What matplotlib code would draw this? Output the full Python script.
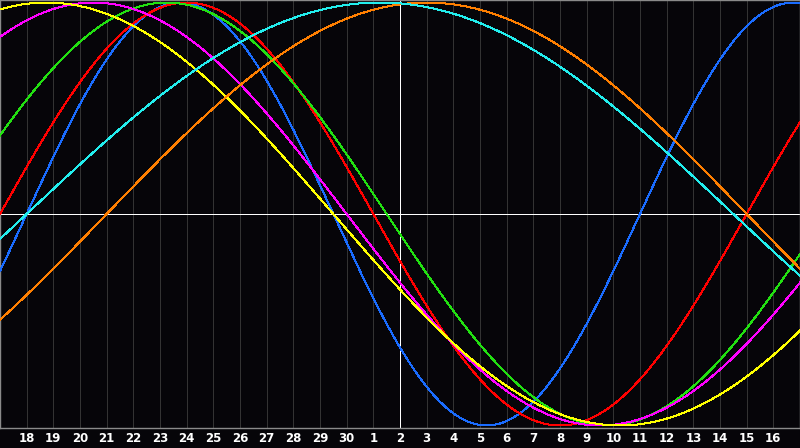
import numpy as np
import matplotlib
matplotlib.use("Agg")
import matplotlib.pyplot as plt

# biorhythm chart: 30 days shown, left edge = day 17, "today" = day 2 (centre)
days_alive_at_left = 18284          # day count at the left edge (read from zero crossings)
today_offset = 15                   # days from left edge to the white "today" line
n_days = 30

cycle_names = ["physical", "emotional", "intellectual", "intuitive",
               "aesthetic", "awareness", "spiritual"]
cycle_periods = [23, 28, 33, 38, 43, 48, 53]
cycle_colors = ["#1a6cff", "#ff0000", "#22e011", "#ff00ff",
                "#ffff00", "#ff7f00", "#22eeee"]

day_labels = [18, 19, 20, 21, 22, 23, 24, 25, 26, 27, 28, 29, 30,
              1, 2, 3, 4, 5, 6, 7, 8, 9, 10, 11, 12, 13, 14, 15, 16]

bg = "#060509"
fig = plt.figure(figsize=(8, 4.48), dpi=100, facecolor=bg)
ax = fig.add_axes([0, 20 / 448, 1, 428 / 448], facecolor=bg)

# day grid
for d in range(1, n_days):
    ax.axvline(d, color="#333333", lw=0.72, antialiased=False, zorder=1)

t = np.linspace(0, n_days, 1601)
for name, per, col in zip(cycle_names, cycle_periods, cycle_colors):
    ax.plot(t, np.sin(2 * np.pi * (days_alive_at_left + t) / per),
            color=col, lw=0.72, antialiased=False, zorder=3, label=name)

ax.axhline(0, color="white", lw=0.72, antialiased=False, zorder=2)
ax.axvline(today_offset, color="white", lw=0.72, antialiased=False, zorder=2)

ax.set_xlim(0, n_days)
ax.set_ylim(-1.012, 1.012)
ax.set_yticks([])
ax.set_xticks(range(1, n_days))
ax.set_xticklabels([str(d) for d in day_labels], color="white",
                   fontsize=8.5, fontweight="bold", family="DejaVu Sans")
ax.tick_params(axis="x", length=0, pad=3)
for s in ax.spines.values():
    s.set_color("#8a8a8a")
    s.set_linewidth(1.0)

fig.savefig("out.png", dpi=100, facecolor=bg)
